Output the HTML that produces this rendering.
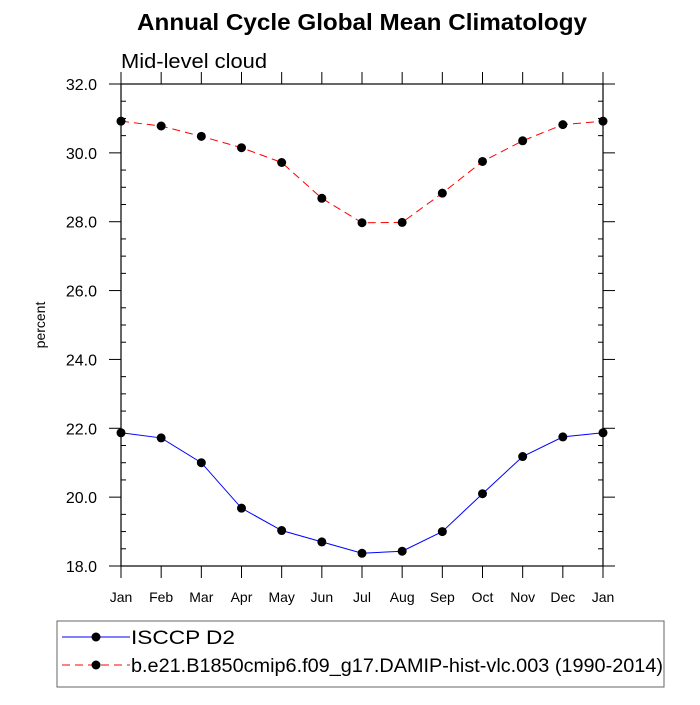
<!DOCTYPE html>
<html><head><meta charset="utf-8"><style>
body{margin:0;background:#fff;}
svg text{font-family:"Liberation Sans",sans-serif;}
</style></head><body>
<svg id="c" width="700" height="700">
<text x="137" y="30" font-size="23" font-weight="bold" textLength="450" lengthAdjust="spacingAndGlyphs">Annual Cycle Global Mean Climatology</text>
<text x="121" y="68" font-size="20" textLength="146" lengthAdjust="spacingAndGlyphs">Mid-level cloud</text>
<text transform="translate(45,325) rotate(-90)" font-size="14" text-anchor="middle">percent</text>
<g id="axes"></g>
<g id="series"></g>
<rect x="57" y="621" width="607" height="66" fill="none" stroke="#666" stroke-width="1"/>
<g>
<line x1="62" y1="637" x2="130" y2="637" stroke="#00f" stroke-width="1"/>
<circle cx="96" cy="637" r="4.5" fill="#000"/>
<text x="131" y="644" font-size="19" textLength="104" lengthAdjust="spacingAndGlyphs">ISCCP D2</text></g>
<g>
<line x1="62" y1="665" x2="130" y2="665" stroke="#f00" stroke-width="1" stroke-dasharray="8,5"/>
<circle cx="96" cy="665" r="4.5" fill="#000"/>
<text x="131" y="672" font-size="19" textLength="532" lengthAdjust="spacingAndGlyphs">b.e21.B1850cmip6.f09_g17.DAMIP-hist-vlc.003 (1990-2014)</text></g>
</svg>
<script>
const months=["Jan","Feb","Mar","Apr","May","Jun","Jul","Aug","Sep","Oct","Nov","Dec","Jan"];
const isccp=[21.87,21.72,21.0,19.68,19.03,18.7,18.37,18.43,19.0,20.1,21.18,21.75,21.87];
const model=[30.92,30.78,30.48,30.15,29.72,28.68,27.97,27.98,28.83,29.75,30.35,30.82,30.92];
const yTicks=[18,20,22,24,26,28,30,32];
const NS="http://www.w3.org/2000/svg";
const L=121,R=603,T=84,B=566,ymin=18,ymax=32;
const xs=i=>L+(R-L)*i/(months.length-1);
const ys=v=>B-(B-T)*(v-ymin)/(ymax-ymin);
function mk(tag,attrs,parent){const e=document.createElementNS(NS,tag);for(const k in attrs)e.setAttribute(k,attrs[k]);parent.appendChild(e);return e;}
const ax=document.getElementById('axes');
const frame=mk('rect',{x:L,y:T,width:R-L,height:B-T,fill:'none',stroke:'#000','stroke-width':1.2},ax);


for(let v=ymin;v<=ymax+1e-9;v+=0.5){
  const y=ys(v);
  if(Math.abs(v-Math.round(v/2)*2)<1e-9){
    mk('line',{x1:L-12,y1:y,x2:L,y2:y,stroke:'#000'},ax);
    mk('line',{x1:R,y1:y,x2:R+12,y2:y,stroke:'#000'},ax);
  }else{
    mk('line',{x1:L,y1:y,x2:L+5,y2:y,stroke:'#000'},ax);
    mk('line',{x1:R-5,y1:y,x2:R,y2:y,stroke:'#000'},ax);
  }
}
yTicks.forEach(v=>{
  const t=mk('text',{x:97,y:ys(v)+6,'font-size':16,'text-anchor':'end'},ax);
  t.textContent=v.toFixed(1);
  
  
});
months.forEach((m,i)=>{
  const x=xs(i);
  mk('line',{x1:x,y1:B,x2:x,y2:B+12,stroke:'#000'},ax);
  mk('line',{x1:x,y1:T-12,x2:x,y2:T,stroke:'#000'},ax);
  const t=mk('text',{x:x,y:B+36,'font-size':14,'text-anchor':'middle'},ax);
  t.textContent=m;
  
  
});
const sg=document.getElementById('series');
function series(vals,color,dash,name){
  const g=mk('g',{},sg);
  
  
  const pts=vals.map((v,i)=>xs(i)+','+ys(v)).join(' ');
  const a={points:pts,fill:'none',stroke:color,'stroke-width':1};
  if(dash)a['stroke-dasharray']=dash;
  mk('polyline',a,g);
  vals.forEach((v,i)=>{
    const c=mk('circle',{cx:xs(i),cy:ys(v),r:4.5,fill:'#000'},g);
    
    
  });
}
series(isccp,'#00f',null,'isccp-series');
series(model,'#f00','8,5','model-series');
</script>
</body></html>
